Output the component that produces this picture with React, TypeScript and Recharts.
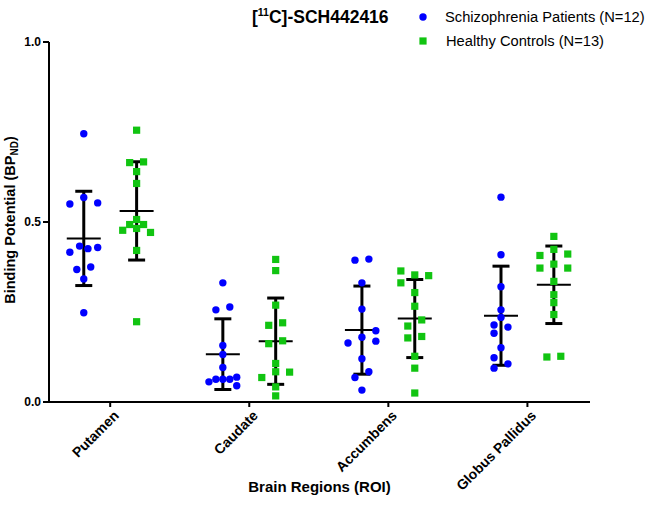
import React from 'react';
import { ScatterChart, Scatter, XAxis, YAxis, ErrorBar } from 'recharts';

// brain regions on the x axis (positions 1..4)
const regions = ['Putamen', 'Caudate', 'Accumbens', 'Globus Pallidus'];
const regionTicks = [1, 2, 3, 4];
const yTicks = [0, 0.5, 1.0];

// Schizophrenia patients, BPnd per subject
const patientsPutamen = [0.745, 0.568, 0.55, 0.553, 0.433, 0.426, 0.429, 0.416, 0.368, 0.375, 0.342, 0.248];
const patientsCaudate = [0.331, 0.256, 0.264, 0.157, 0.132, 0.096, 0.056, 0.063, 0.063, 0.063, 0.069, 0.045];
const patientsAccumbens = [0.394, 0.397, 0.331, 0.258, 0.198, 0.18, 0.164, 0.169, 0.12, 0.084, 0.068, 0.033];
const patientsPallidus = [0.569, 0.409, 0.32, 0.256, 0.235, 0.214, 0.208, 0.191, 0.151, 0.123, 0.106, 0.094];

// Healthy controls, BPnd per subject
const controlsPutamen = [0.755, 0.665, 0.667, 0.64, 0.607, 0.507, 0.493, 0.493, 0.477, 0.482, 0.471, 0.421, 0.223];
const controlsCaudate = [0.396, 0.365, 0.269, 0.213, 0.22, 0.162, 0.17, 0.107, 0.084, 0.068, 0.083, 0.042, 0.017];
const controlsAccumbens = [0.364, 0.353, 0.351, 0.331, 0.304, 0.266, 0.228, 0.211, 0.178, 0.182, 0.127, 0.094, 0.025];
const controlsPallidus = [0.46, 0.424, 0.407, 0.411, 0.383, 0.372, 0.372, 0.335, 0.298, 0.276, 0.243, 0.125, 0.127];

// horizontal scatter of the dots inside a column (category units)
const patientsPutamenJitter = [0, 0, -0.1, 0.1, -0.03, 0.03, 0.1, -0.1, -0.05, 0.05, 0, 0];
const patientsCaudateJitter = [0, -0.05, 0.05, 0, 0, 0, -0.1, -0.05, 0, 0.05, 0.1, 0.1];
const patientsAccumbensJitter = [-0.05, 0.05, 0, 0, 0.1, 0, -0.1, 0.1, 0, 0.05, -0.05, 0];
const patientsPallidusJitter = [0, 0, 0, 0, 0, -0.05, 0.05, -0.05, 0, -0.05, 0.05, -0.05];
const controlsPutamenJitter = [0, -0.05, 0.05, 0, 0, 0, -0.05, 0.05, -0.1, 0, 0.1, 0, 0];
const controlsCaudateJitter = [0, 0, 0, -0.05, 0.05, -0.05, 0.05, 0, 0, -0.1, 0.1, 0, 0];
const controlsAccumbensJitter = [-0.1, 0, 0.1, -0.1, 0, 0, 0.05, -0.05, -0.05, 0.05, 0, 0, 0];
const controlsPallidusJitter = [0, 0, -0.1, 0.1, 0, -0.1, 0.1, 0, 0, 0, 0, -0.05, 0.05];

const patients = [patientsPutamen, patientsCaudate, patientsAccumbens, patientsPallidus];
const patientsJitter = [patientsPutamenJitter, patientsCaudateJitter, patientsAccumbensJitter, patientsPallidusJitter];
const controls = [controlsPutamen, controlsCaudate, controlsAccumbens, controlsPallidus];
const controlsJitter = [controlsPutamenJitter, controlsCaudateJitter, controlsAccumbensJitter, controlsPallidusJitter];

const BLUE = '#0000ff';
const GREEN = '#11c411';
const FONT = '"Liberation Sans", Arial, sans-serif';
const GROUP_SHIFT = 0.19;

const toPoints = (groups: number[][], jitter: number[][], shift: number) =>
  groups.flatMap((vals, i) => vals.map((y, j) => ({ x: regionTicks[i] + shift + jitter[i][j], y })));

// mean +/- SD per region
const toSummary = (groups: number[][], shift: number) =>
  groups.map((vals, i) => {
    const mean = vals.reduce((a, b) => a + b, 0) / vals.length;
    const sd = Math.sqrt(vals.reduce((a, b) => a + (b - mean) ** 2, 0) / (vals.length - 1));
    return { x: regionTicks[i] + shift, y: mean, sd };
  });

const patientPoints = toPoints(patients, patientsJitter, -GROUP_SHIFT);
const controlPoints = toPoints(controls, controlsJitter, GROUP_SHIFT);
const summary = [...toSummary(patients, -GROUP_SHIFT), ...toSummary(controls, GROUP_SHIFT)];

const Dot = (props: any) => <circle cx={props.cx} cy={props.cy} r={3.7} fill={BLUE} />;
const Square = (props: any) => (
  <rect x={props.cx - 3.6} y={props.cy - 3.6} width={7.2} height={7.2} fill={GREEN} />
);
const MeanLine = (props: any) => (
  <line x1={props.cx - 17} x2={props.cx + 17} y1={props.cy} y2={props.cy} stroke="#000" strokeWidth={2} />
);

const RegionTick = ({ x, y, payload }: any) => (
  <g transform={`translate(${x + 6},${y + 4})`}>
    <text x={0} y={0} dy={5} textAnchor="end" transform="rotate(-45)" fontSize={14} fontWeight="bold" fill="#000" fontFamily={FONT}>
      {regions[regionTicks.indexOf(payload.value)]}
    </text>
  </g>
);

const YTitle = () => (
  <text x={15} y={220} transform="rotate(-90 15 220)" textAnchor="middle" fontSize={14.5} fontWeight="bold" fill="#000" fontFamily={FONT}>
    Binding Potential (BP<tspan fontSize={10} dy={3}>ND</tspan><tspan dy={-3}>)</tspan>
  </text>
);

export default function App() {
  return (
    <div style={{ position: 'absolute', left: 0, top: 0, width: 645, height: 520, background: '#fff', fontFamily: FONT }}>
      <ScatterChart width={645} height={520} margin={{ top: 42, right: 55, bottom: 0, left: 0 }}>
        <XAxis
          type="number"
          dataKey="x"
          domain={[0.56, 4.45]}
          ticks={regionTicks}
          allowDataOverflow
          height={118}
          tick={<RegionTick />}
          tickSize={5}
          axisLine={{ stroke: '#000', strokeWidth: 2 }}
          tickLine={{ stroke: '#000', strokeWidth: 2 }}
          label={{ value: 'Brain Regions (ROI)', position: 'insideBottom', offset: 28, fontSize: 15, fontWeight: 'bold', fill: '#000' }}
        />
        <YAxis
          type="number"
          dataKey="y"
          domain={[0, 1]}
          ticks={yTicks}
          width={49}
          tickFormatter={(v: number) => v.toFixed(1)}
          tick={{ fontSize: 12, fontWeight: 'bold', fill: '#000', fontFamily: FONT }}
          tickSize={6}
          axisLine={{ stroke: '#000', strokeWidth: 2 }}
          tickLine={{ stroke: '#000', strokeWidth: 2 }}
          label={{ content: () => <YTitle /> }}
        />
        <Scatter data={summary} shape={<MeanLine />} isAnimationActive={false}>
          <ErrorBar dataKey="sd" direction="y" width={8.5} stroke="#000" strokeWidth={3} />
        </Scatter>
        <Scatter name="Schizophrenia Patients (N=12)" data={patientPoints} shape={<Dot />} isAnimationActive={false} />
        <Scatter name="Healthy Controls (N=13)" data={controlPoints} shape={<Square />} isAnimationActive={false} />
      </ScatterChart>
      <svg width={645} height={60} style={{ position: 'absolute', left: 0, top: 0, pointerEvents: 'none' }}>
        <text x={252} y={23} fontSize={17.5} fontWeight="bold" fill="#000" fontFamily={FONT}>
          [<tspan fontSize={10.5} dy={-7}>11</tspan><tspan dy={7}>C]-SCH442416</tspan>
        </text>
        <circle cx={423} cy={17} r={3.7} fill={BLUE} />
        <text x={445} y={22} fontSize={14.7} fill="#000" fontFamily={FONT}>Schizophrenia Patients (N=12)</text>
        <rect x={419.4} y={37.4} width={7.2} height={7.2} fill={GREEN} />
        <text x={446} y={46} fontSize={14.7} fill="#000" fontFamily={FONT}>Healthy Controls (N=13)</text>
      </svg>
    </div>
  );
}
